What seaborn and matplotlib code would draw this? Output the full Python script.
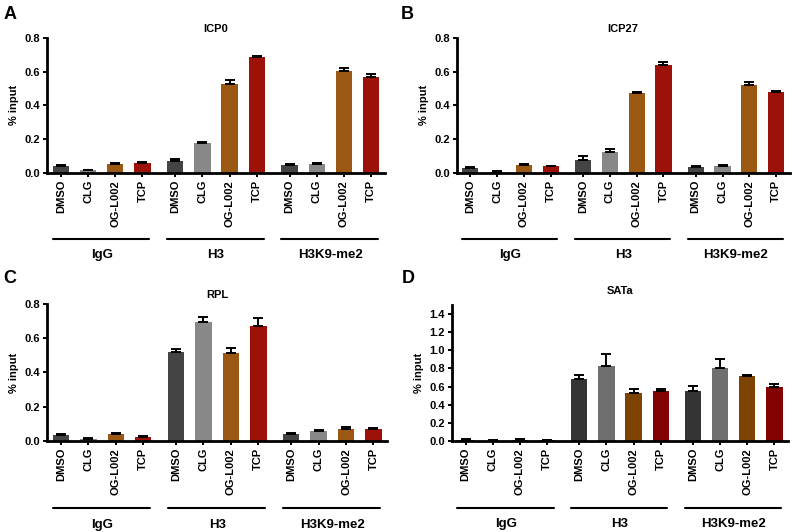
import numpy as np
import pandas as pd
import matplotlib
matplotlib.use("Agg")
import matplotlib.pyplot as plt
import seaborn as sns

sns.set_theme(style="ticks")
plt.rcParams['font.family'] = ['Liberation Sans', 'DejaVu Sans']
plt.rcParams['font.weight'] = 'bold'
plt.rcParams['text.color'] = 'black'
plt.rcParams['axes.labelcolor'] = 'black'
plt.rcParams['xtick.color'] = 'black'
plt.rcParams['ytick.color'] = 'black'

treatments = ["DMSO", "CLG", "OG-L002", "TCP"]
antibodies = ["IgG", "H3", "H3K9-me2"]

# means (IgG x4, H3 x4, H3K9-me2 x4) and upper SEM
icp0_mean = [0.040, 0.016, 0.055, 0.058, 0.071, 0.175, 0.528, 0.684, 0.045, 0.053, 0.605, 0.566]
icp0_err = [0.005, 0.004, 0.006, 0.005, 0.009, 0.006, 0.022, 0.008, 0.010, 0.007, 0.014, 0.017]
icp27_mean = [0.028, 0.008, 0.045, 0.039, 0.079, 0.126, 0.475, 0.638, 0.037, 0.040, 0.518, 0.479]
icp27_err = [0.007, 0.004, 0.005, 0.004, 0.024, 0.015, 0.006, 0.018, 0.004, 0.007, 0.020, 0.005]
rpl_mean = [0.033, 0.013, 0.040, 0.025, 0.520, 0.695, 0.515, 0.673, 0.041, 0.057, 0.072, 0.070]
rpl_err = [0.007, 0.007, 0.004, 0.004, 0.015, 0.025, 0.027, 0.042, 0.005, 0.006, 0.008, 0.005]
sata_mean = [0.015, 0.004, 0.015, 0.010, 0.682, 0.821, 0.528, 0.546, 0.553, 0.802, 0.711, 0.590]
sata_err = [0.004, 0.002, 0.004, 0.003, 0.045, 0.140, 0.040, 0.030, 0.052, 0.100, 0.015, 0.035]

panels = [
    ("A", "ICP0", icp0_mean, icp0_err, 0.8, np.arange(0, 0.81, 0.2), "{:.1f}"),
    ("B", "ICP27", icp27_mean, icp27_err, 0.8, np.arange(0, 0.81, 0.2), "{:.1f}"),
    ("C", "RPL", rpl_mean, rpl_err, 0.8, np.arange(0, 0.81, 0.2), "{:.1f}"),
    ("D", "SATa", sata_mean, sata_err, 1.5, np.arange(0, 1.41, 0.2), "{:.1f}"),
]

pal_light = {"DMSO": "#444444", "CLG": "#888888", "OG-L002": "#9b5812", "TCP": "#9c1208"}
pal_dark = {"DMSO": "#343434", "CLG": "#6f6f6f", "OG-L002": "#7d4302", "TCP": "#820202"}

gap = 0.2
positions = [g * (4 + gap) + i for g in range(3) for i in range(4)]

axes_rects = [
    [0.059, 0.675, 0.422, 0.254],
    [0.571, 0.675, 0.416, 0.254],
    [0.059, 0.171, 0.425, 0.258],
    [0.565, 0.171, 0.420, 0.256],
]
letter_pos = [(0.004, 0.988), (0.501, 0.988), (0.004, 0.493), (0.502, 0.493)]

fig = plt.figure(figsize=(8, 5.32), dpi=100)

for k, (letter, title, mean, err, ymax, yt, fmt) in enumerate(panels):
    ax = fig.add_axes(axes_rects[k])
    df = pd.DataFrame({
        "pos": positions,
        "treatment": treatments * 3,
        "antibody": np.repeat(antibodies, 4),
        "value": mean,
    })
    pal = pal_dark if letter == "D" else pal_light
    sns.barplot(data=df, x="pos", y="value", hue="treatment", palette=pal,
                native_scale=True, dodge=False, width=0.6, legend=False,
                errorbar=None, linewidth=0, saturation=1, ax=ax)
    ax.errorbar(df["pos"], df["value"], yerr=[np.zeros(12), err], fmt="none",
                ecolor="black", elinewidth=1.4, capsize=3.4, capthick=1.4, zorder=5)
    ax.set_xlim(-0.5, positions[-1] + 0.5)
    ax.set_ylim(0, ymax)
    ax.set_yticks(yt)
    ax.set_yticklabels([fmt.format(v) for v in yt], fontsize=8, fontweight="bold")
    ax.set_xticks(positions)
    ax.set_xticklabels(treatments * 3, rotation=90, fontsize=8, fontweight="bold")
    ax.set_xlabel("")
    ax.set_ylabel("% input", fontsize=8, fontweight="bold", labelpad=4)
    pad = 8 if letter == "D" else 4
    ax.set_title(title, fontsize=8, fontweight="bold", pad=pad, color="black")
    for s in ["top", "right"]:
        ax.spines[s].set_visible(False)
    for s in ["left", "bottom"]:
        ax.spines[s].set_linewidth(2.0)
        ax.spines[s].set_color("black")
    ax.tick_params(axis="both", direction="out", length=3, width=1.4, colors="black", pad=2)
    ax.set_facecolor("white")

    trans = ax.get_xaxis_transform()
    for g, ab in enumerate(antibodies):
        p0 = positions[g * 4]
        p3 = positions[g * 4 + 3]
        ax.plot([p0 - 0.3, p3 + 0.25], [-0.49, -0.49], color="black", lw=1.5,
                transform=trans, clip_on=False)
        ax.text((p0 + p3) / 2, -0.61, ab, transform=trans, ha="center", va="center",
                fontsize=9.5, fontweight="bold", color="black")
    fig.text(letter_pos[k][0], letter_pos[k][1], letter, fontsize=13, fontweight="bold",
             ha="left", va="top", color="black")

fig.savefig("out.png", dpi=100, facecolor="white")
